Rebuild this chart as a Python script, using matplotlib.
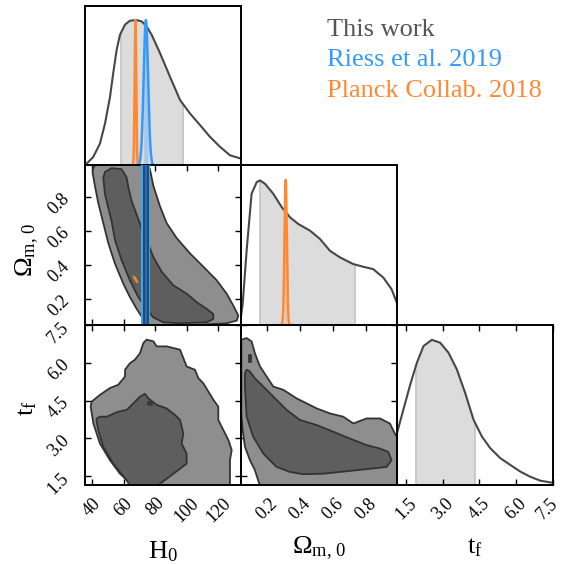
import numpy as np
import matplotlib
matplotlib.use("Agg")
import matplotlib.pyplot as plt
from matplotlib.patches import Polygon
from matplotlib.transforms import ScaledTranslation

plt.rcParams.update({
    "font.family": ["Liberation Serif", "DejaVu Serif"],
    "mathtext.fontset": "custom",
    "mathtext.rm": "Liberation Serif",
    "mathtext.it": "Liberation Serif:italic",
    "mathtext.bf": "Liberation Serif:bold",
})

# ---------------- parameter ranges and ticks ----------------
h0_range = (35.4, 134.4)
om_range = (0.045, 0.988)
tf_range = (1.14, 7.5)

h0_ticks = [40, 60, 80, 100, 120]
om_ticks = [0.2, 0.4, 0.6, 0.8]
tf_ticks = [1.5, 3.0, 4.5, 6.0, 7.5]

h0_ticklabels = ["40", "60", "80", "100", "120"]
om_ticklabels = ["0.2", "0.4", "0.6", "0.8"]
tf_ticklabels = ["1.5", "3.0", "4.5", "6.0", "7.5"]

# ---------------- marginal posteriors (this work) ----------------
h0_x = [35.4, 40.6, 44.9, 48.1, 51.3, 53.3, 55.5, 57.6, 60.8, 63.9, 68.2, 71.4,
        74.5, 77.7, 83.0, 89.3, 95.7, 102.0, 108.4, 114.7, 121.1, 127.4, 134.4]
h0_pdf = [0.0, 0.057, 0.150, 0.288, 0.473, 0.634, 0.796, 0.899, 0.969, 0.996,
          1.0, 0.991, 0.957, 0.899, 0.773, 0.611, 0.450, 0.357, 0.277, 0.196,
          0.127, 0.069, 0.046]

om_x = [0.045, 0.055, 0.079, 0.109, 0.140, 0.160, 0.190, 0.240, 0.291, 0.341,
        0.391, 0.462, 0.522, 0.582, 0.643, 0.723, 0.784, 0.844, 0.905, 0.955, 0.988]
om_pdf = [0.06, 0.143, 0.512, 0.904, 0.984, 0.996, 0.973, 0.904, 0.812, 0.742,
          0.696, 0.650, 0.593, 0.512, 0.466, 0.420, 0.401, 0.385, 0.327, 0.247, 0.150]

tf_x = [1.14, 1.40, 1.68, 1.95, 2.22, 2.56, 2.90, 3.24, 3.58, 3.92, 4.26, 4.60,
        4.94, 5.35, 5.76, 6.17, 6.57, 6.98, 7.46, 7.5]
tf_pdf = [0.358, 0.519, 0.692, 0.842, 0.957, 1.0, 0.980, 0.911, 0.796, 0.634,
          0.450, 0.334, 0.254, 0.185, 0.138, 0.092, 0.057, 0.030, 0.016, 0.015]

# 68% credible intervals
h0_ci = (58.0, 97.8)
om_ci = (0.160, 0.733)
tf_ci = (1.91, 4.30)

# ---------------- 2D credible regions (this work) ----------------
# H0 - Omega_m
h0om_out_h0 = [40.7, 43.0, 74.5, 76.6, 78.8, 83.0, 87.2, 93.6, 102.0, 110.5, 119.0,
               125.3, 129.5, 132.7, 131.7, 125.3, 95.7, 75.6, 72.4, 68.2, 63.9,
               59.7, 54.4, 50.2, 47.0, 43.8, 41.7, 40.2]
h0om_out_om = [0.975, 1.0, 1.0, 0.965, 0.866, 0.746, 0.647, 0.558, 0.468, 0.389,
               0.309, 0.230, 0.160, 0.100, 0.071, 0.055, 0.040, 0.040, 0.080,
               0.140, 0.210, 0.289, 0.408, 0.528, 0.647, 0.766, 0.866, 0.945]
h0om_in_h0 = [52.3, 58.6, 61.8, 62.9, 65.0, 68.2, 71.3, 74.5, 78.7, 84.1, 91.5,
              99.9, 106.3, 112.6, 116.8, 116.8, 112.6, 95.7, 85.1, 78.7, 74.5,
              69.2, 63.9, 58.6, 54.4, 52.3, 50.2, 48.1, 47.0, 48.1]
h0om_in_om = [0.971, 0.965, 0.917, 0.858, 0.776, 0.697, 0.617, 0.548, 0.448,
              0.359, 0.279, 0.230, 0.180, 0.140, 0.110, 0.080, 0.061, 0.055,
              0.061, 0.090, 0.140, 0.210, 0.309, 0.428, 0.548, 0.657, 0.736,
              0.816, 0.915, 0.949]

# H0 - t_f
h0tf_out_h0 = [74.5, 78.8, 80.9, 87.2, 95.7, 97.4, 99.9, 105.2, 107.3, 110.5,
               113.7, 116.9, 120.0, 120.0, 123.2, 126.4, 128.5, 127.4, 127.4,
               127.4, 66.1, 57.6, 51.2, 44.9, 40.7, 39.0, 39.6, 44.9, 51.2, 56.5,
               60.8, 60.8, 63.9, 67.1, 70.3, 72.4]
h0tf_out_tf = [6.93, 6.86, 6.66, 6.66, 6.53, 6.26, 5.86, 5.73, 5.40, 5.19, 4.86,
               4.53, 4.26, 3.73, 3.33, 2.93, 2.53, 2.13, 1.46, 1.10, 1.10, 1.59,
               2.13, 2.79, 3.59, 4.26, 4.46, 4.73, 5.00, 5.13, 5.46, 5.73, 5.99,
               6.13, 6.39, 6.79]
h0tf_in_h0 = [42.8, 44.9, 49.1, 56.5, 61.8, 66.1, 70.3, 73.5, 75.6, 80.9, 87.2,
              92.5, 95.7, 97.8, 96.7, 99.9, 99.9, 91.5, 83.0, 82.0, 64.0, 61.8,
              53.4, 47.0, 43.8, 42.8]
h0tf_in_tf = [3.79, 3.86, 3.86, 4.06, 4.13, 4.39, 4.66, 4.77, 4.59, 4.33, 4.19,
              3.93, 3.73, 3.19, 2.79, 2.39, 1.99, 1.59, 1.19, 1.10, 1.10, 1.33,
              1.99, 2.66, 3.33, 3.66]

# Omega_m - t_f
omtf_out_om = [0.047, 0.079, 0.109, 0.129, 0.160, 0.200, 0.240, 0.301, 0.381,
               0.442, 0.502, 0.583, 0.663, 0.724, 0.804, 0.885, 0.945, 0.975,
               1.0, 1.0, 0.160, 0.129, 0.099, 0.069, 0.055, 0.047]
omtf_out_tf = [6.93, 6.99, 6.86, 6.39, 5.86, 5.46, 5.06, 4.93, 4.59, 4.39, 4.19,
               3.99, 3.86, 3.59, 3.79, 3.79, 3.59, 3.19, 2.93, 1.10, 1.10, 1.73,
               2.13, 2.66, 3.33, 3.99]
omtf_in_om = [0.079, 0.099, 0.129, 0.180, 0.240, 0.321, 0.401, 0.502, 0.603,
              0.703, 0.804, 0.885, 0.935, 0.955, 0.925, 0.844, 0.744, 0.643,
              0.542, 0.421, 0.341, 0.260, 0.180, 0.119, 0.079, 0.069, 0.069]
omtf_in_tf = [5.73, 5.66, 5.39, 5.06, 4.66, 4.13, 3.73, 3.53, 3.26, 2.99, 2.73,
              2.59, 2.46, 2.13, 1.86, 1.80, 1.73, 1.66, 1.59, 1.57, 1.66, 1.86,
              2.39, 3.06, 3.86, 5.06, 5.59]

# small isolated 1-sigma islands
island_h0tf_h0 = [75.4, 77.6, 77.8, 75.6]
island_h0tf_tf = [4.44, 4.44, 4.34, 4.34]
island_omtf_om = [0.092, 0.104, 0.104, 0.092]
island_omtf_tf = [6.33, 6.33, 6.05, 6.05]

# ---------------- external measurements ----------------
riess_h0, riess_sig = 74.03, 1.42
planck_h0, planck_h0_sig = 67.4, 0.5
planck_om, planck_om_sig = 0.315, 0.007
planck_rho = -0.95

labels = ["This work", "Riess et al. 2019", "Planck Collab. 2018"]
label_colors = ["#555555", "#3399ff", "#ff8833"]

# ---------------- styling ----------------
c_line = "#474747"
c_edge = "#333333"
c_outer = "#8e8e8e"
c_inner = "#5e5e5e"
c_shade = "#dcdcdc"
c_blue = "#3399ff"
c_orange = "#ff8833"

W, H = 565, 564
fig = plt.figure(figsize=(W / 100, H / 100), dpi=100)

col_left = [85, 241, 397]
col_w = 156
row_bottom = [165.3, 325.0, 485.0]
row_h = 159.7


def make_ax(r, c):
    return fig.add_axes([col_left[c] / W, 1 - row_bottom[r] / H, col_w / W, row_h / H])


def style_spines(ax):
    for s in ax.spines.values():
        s.set_linewidth(1.4)
        s.set_color("black")


def shade_interval(ax, x, y, lo, hi):
    x = np.asarray(x, float)
    y = np.asarray(y, float)
    inside = (x > lo) & (x < hi)
    xs = np.concatenate([[lo], x[inside], [hi]])
    ys = np.concatenate([[np.interp(lo, x, y)], y[inside], [np.interp(hi, x, y)]])
    ax.fill_between(xs, 0, ys, color=c_shade, lw=0, zorder=1)
    ax.vlines([lo, hi], 0, [ys[0], ys[-1]], color="#c6c6c6", lw=1.3, zorder=1.5)


def gauss_curve(ax, mu, sig, color):
    xs = np.linspace(mu - 5 * sig, mu + 5 * sig, 200)
    ys = np.exp(-0.5 * ((xs - mu) / sig) ** 2)
    m = (xs >= mu - sig) & (xs <= mu + sig)
    ax.fill_between(xs[m], 0, ys[m], color=color, alpha=0.3, lw=0, zorder=3)
    ax.plot(xs, ys, color=color, lw=1.8, zorder=4)


def diag(ax, x, y, ci, rng):
    shade_interval(ax, x, y, *ci)
    ax.plot(x, y, color=c_line, lw=1.5, zorder=2, solid_joinstyle="round")
    ax.set_xlim(*rng)
    ax.set_ylim(0, 1.1)
    ax.set_yticks([])


def region(ax, xs, ys, face, z):
    ax.add_patch(Polygon(np.column_stack([xs, ys]), closed=True, facecolor=face,
                         edgecolor=c_edge, lw=1.3, joinstyle="round", zorder=z))


def ticks_2d(ax):
    ax.tick_params(direction="in", length=4.5, width=1.0, top=True, right=True,
                   labelsize=13)
    ax.tick_params(axis="x", pad=7)
    ax.tick_params(axis="y", pad=9)


# ---- H0 marginal ----
ax00 = make_ax(0, 0)
diag(ax00, h0_x, h0_pdf, h0_ci, h0_range)
gauss_curve(ax00, planck_h0, planck_h0_sig, c_orange)
gauss_curve(ax00, riess_h0, riess_sig, c_blue)
ax00.set_xticks([])
style_spines(ax00)

# ---- Omega_m marginal ----
ax11 = make_ax(1, 1)
diag(ax11, om_x, om_pdf, om_ci, om_range)
gauss_curve(ax11, planck_om, planck_om_sig, c_orange)
ax11.set_xticks([])
style_spines(ax11)

# ---- t_f marginal ----
ax22 = make_ax(2, 2)
diag(ax22, tf_x, tf_pdf, tf_ci, tf_range)
ax22.set_xticks(tf_ticks)
ax22.set_xticklabels(tf_ticklabels, rotation=45)
ax22.tick_params(axis="x", direction="in", length=4.5, width=1.0, top=True,
                 labelsize=13, pad=7)
style_spines(ax22)
# keep the last label inside the canvas
last = ax22.get_xticklabels()[-1]
last.set_transform(last.get_transform() + ScaledTranslation(-5 / 100, 0, fig.dpi_scale_trans))

# ---- H0 vs Omega_m ----
ax10 = make_ax(1, 0)
region(ax10, h0om_out_h0, h0om_out_om, c_outer, 2)
region(ax10, h0om_in_h0, h0om_in_om, c_inner, 2.1)
ax10.axvspan(riess_h0 - 2 * riess_sig, riess_h0 + 2 * riess_sig, color="#44a4e2", lw=0, zorder=3)
ax10.axvspan(riess_h0 - riess_sig, riess_h0 + riess_sig, color="#2a6cb0", lw=0, zorder=3.1)
ax10.axvline(riess_h0 - riess_sig, color="#1c4a80", lw=1.4, zorder=3.2)
ax10.axvline(riess_h0 + riess_sig, color="#1c4a80", lw=1.4, zorder=3.2)
hg = np.linspace(62, 73, 400)
og = np.linspace(0.26, 0.37, 400)
HH, OO = np.meshgrid(hg, og)
dx = (HH - planck_h0) / planck_h0_sig
dy = (OO - planck_om) / planck_om_sig
chi2 = (dx ** 2 - 2 * planck_rho * dx * dy + dy ** 2) / (1 - planck_rho ** 2)
ax10.contourf(HH, OO, chi2, levels=[0, 2.30, 6.17], colors=["#d9851f", "#f0a040"], zorder=4)
ax10.contour(HH, OO, chi2, levels=[6.17], colors=["#e0902a"], linewidths=1.2, zorder=4.1)
ax10.set_xlim(*h0_range)
ax10.set_ylim(*om_range)
ax10.set_xticks(h0_ticks)
ax10.set_xticklabels([])
ax10.set_yticks(om_ticks)
ax10.set_yticklabels(om_ticklabels, rotation=45)
ticks_2d(ax10)
style_spines(ax10)

# ---- H0 vs t_f ----
ax20 = make_ax(2, 0)
region(ax20, h0tf_out_h0, h0tf_out_tf, c_outer, 2)
region(ax20, h0tf_in_h0, h0tf_in_tf, c_inner, 2.1)
region(ax20, island_h0tf_h0, island_h0tf_tf, c_inner, 2.2)
ax20.set_xlim(*h0_range)
ax20.set_ylim(*tf_range)
ax20.set_xticks(h0_ticks)
ax20.set_xticklabels(h0_ticklabels, rotation=45)
ax20.set_yticks(tf_ticks)
ax20.set_yticklabels(tf_ticklabels, rotation=45)
ticks_2d(ax20)
style_spines(ax20)

# ---- Omega_m vs t_f ----
ax21 = make_ax(2, 1)
region(ax21, omtf_out_om, omtf_out_tf, c_outer, 2)
region(ax21, omtf_in_om, omtf_in_tf, c_inner, 2.1)
region(ax21, island_omtf_om, island_omtf_tf, c_inner, 2.2)
ax21.set_xlim(*om_range)
ax21.set_ylim(*tf_range)
ax21.set_xticks(om_ticks)
ax21.set_xticklabels(om_ticklabels, rotation=45)
ax21.set_yticks(tf_ticks)
ax21.set_yticklabels([])
ticks_2d(ax21)
style_spines(ax21)

# ---- axis labels ----
fig.text(163 / W, 1 - 558 / H, r"$\mathrm{H}_0$", fontsize=19, ha="center", va="baseline")
fig.text(319 / W, 1 - 553 / H, r"$\Omega_{\mathrm{m,\,0}}$", fontsize=19, ha="center", va="baseline")
fig.text(475 / W, 1 - 553 / H, r"$\mathrm{t_f}$", fontsize=19, ha="center", va="baseline")
fig.text(32 / W, 1 - 250 / H, r"$\Omega_{\mathrm{m,\,0}}$", fontsize=19, rotation=90,
         rotation_mode="anchor", ha="center", va="baseline")
fig.text(33 / W, 1 - 408 / H, r"$\mathrm{t_f}$", fontsize=19, rotation=90,
         rotation_mode="anchor", ha="center", va="baseline")

# ---- legend text ----
for i, (lab, col) in enumerate(zip(labels, label_colors)):
    fig.text(327 / W, 1 - (36 + 30.3 * i) / H, lab, color=col, fontsize=19,
             ha="left", va="baseline")

fig.savefig("out.png", dpi=100)
